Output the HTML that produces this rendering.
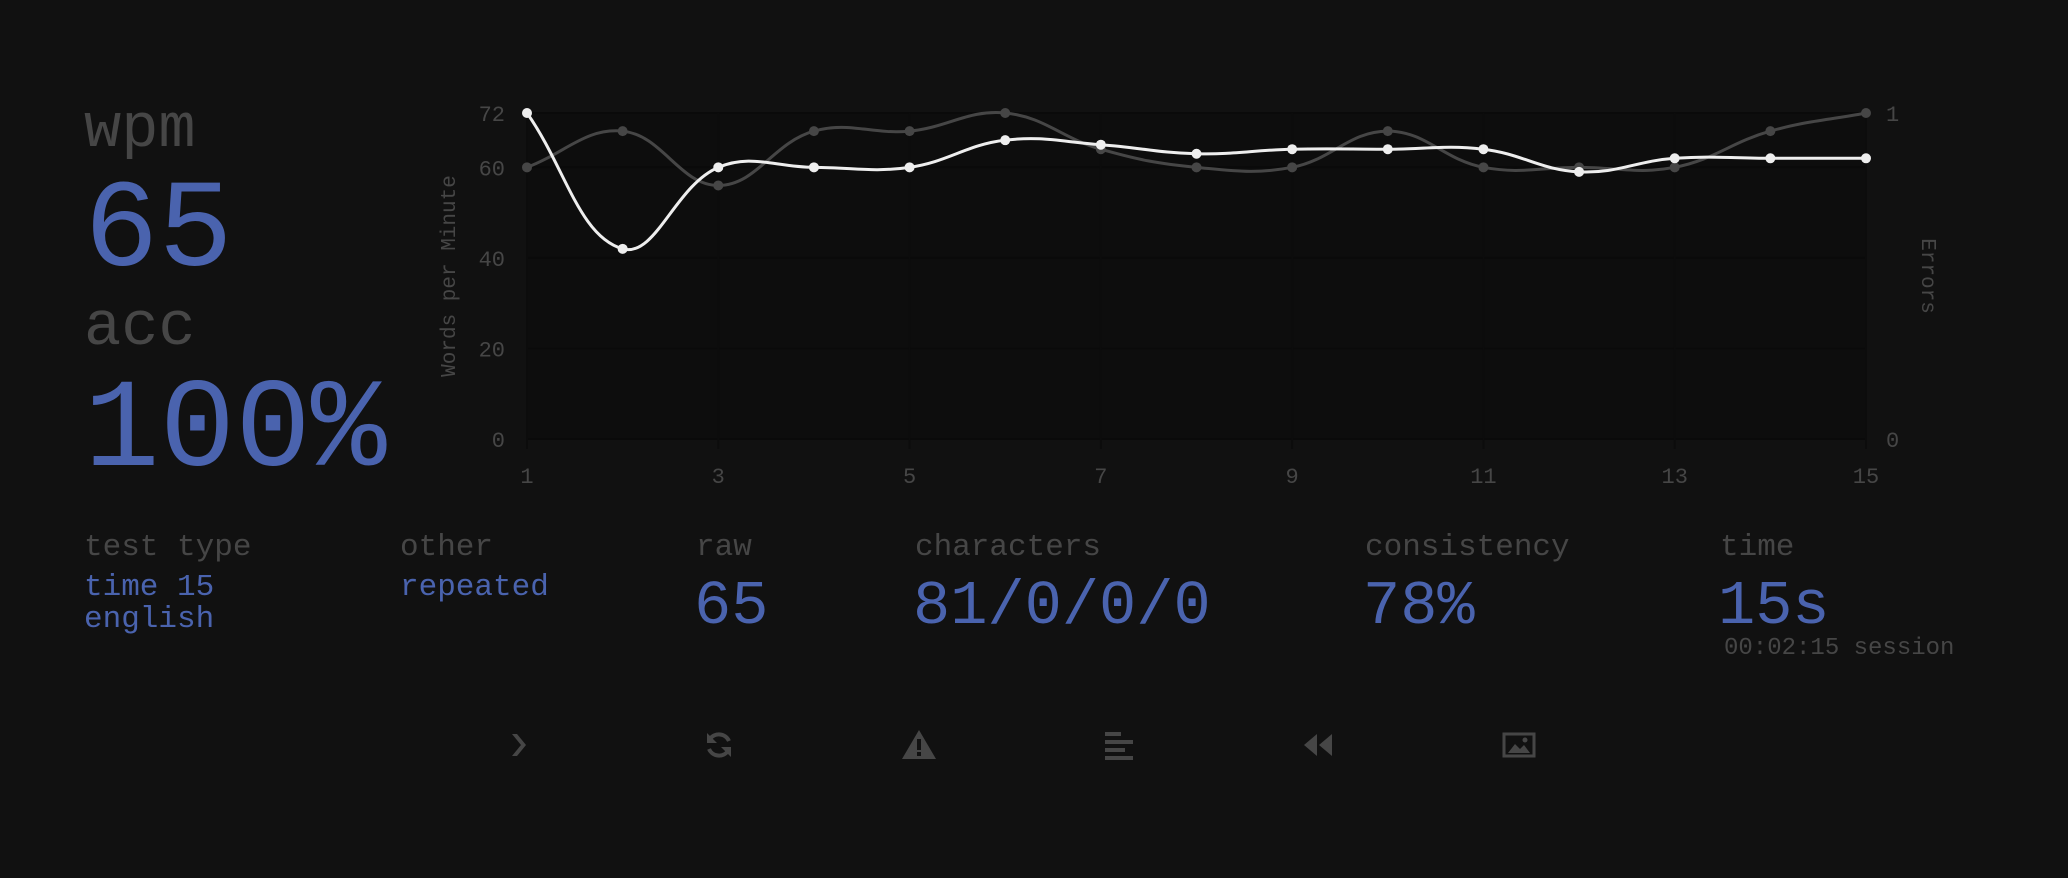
<!DOCTYPE html>
<html><head><meta charset="utf-8">
<style>
html,body{margin:0;padding:0;background:#111111;width:2068px;height:878px;overflow:hidden;font-family:"Liberation Mono",monospace;}
.t{position:absolute;white-space:nowrap;line-height:1;}
.sub{color:#464646;}
.main{color:#4a63ae;}
</style></head><body>
<div class="t sub" style="left:84px;top:99px;font-size:62px;">wpm</div>
<div class="t main" style="left:84px;top:171px;font-size:124px;">65</div>
<div class="t sub" style="left:84px;top:297px;font-size:62px;">acc</div>
<div class="t main" style="left:84px;top:369px;font-size:126px;">100%</div>

<svg id="chart" width="2068" height="520" style="position:absolute;left:0;top:0;"></svg>

<div class="t sub" style="left:84px;top:532px;font-size:31px;">test type</div>
<div class="t main" style="left:84px;top:572px;font-size:31px;line-height:32px;">time 15<br>english</div>
<div class="t sub" style="left:400px;top:532px;font-size:31px;">other</div>
<div class="t main" style="left:400px;top:572px;font-size:31px;">repeated</div>
<div class="t sub" style="left:696px;top:532px;font-size:31px;">raw</div>
<div class="t main" style="left:694px;top:576px;font-size:62px;">65</div>
<div class="t sub" style="left:915px;top:532px;font-size:31px;">characters</div>
<div class="t main" style="left:913px;top:576px;font-size:62px;">81/0/0/0</div>
<div class="t sub" style="left:1365px;top:532px;font-size:31px;">consistency</div>
<div class="t main" style="left:1363px;top:576px;font-size:62px;">78%</div>
<div class="t sub" style="left:1720px;top:532px;font-size:31px;">time</div>
<div class="t main" style="left:1718px;top:576px;font-size:62px;">15s</div>
<div class="t sub" style="left:1724px;top:637px;font-size:24px;">00:02:15 session</div>

<svg width="2068" height="100" style="position:absolute;left:0;top:695px;" fill="#464646">
 <g transform="translate(518,50)"><path d="M-6,-11 L-1,-11 L8,0 L-1,11 L-6,11 L3,0 Z"/></g>
 <g transform="translate(719,50)" fill="none" stroke="#464646" stroke-width="4"><path d="M10,-4 A11,11 0 0 0 -9,-6"/><path d="M-10,4 A11,11 0 0 0 9,6"/><path d="M-12,-12 l0,10 l10,0 z" fill="#464646" stroke="none"/><path d="M12,12 l0,-10 l-10,0 z" fill="#464646" stroke="none"/></g>
 <g transform="translate(919,50)"><path d="M0,-15 L17,14 L-17,14 Z"/><rect x="-2" y="-6" width="4" height="11" fill="#111"/><rect x="-2" y="7" width="4" height="4" fill="#111"/></g>
 <g transform="translate(1119,50)"><rect x="-14" y="-13" width="16" height="4"/><rect x="-14" y="-5" width="28" height="4"/><rect x="-14" y="3" width="20" height="4"/><rect x="-14" y="11" width="28" height="4"/></g>
 <g transform="translate(1319,50)"><path d="M-15,0 L-2,-11 L-2,11 Z"/><path d="M0,0 L13,-11 L13,11 Z"/></g>
 <g transform="translate(1519,50)"><rect x="-15" y="-11" width="30" height="22" fill="none" stroke="#464646" stroke-width="3"/><path d="M-11,8 L-4,-1 L1,4 L5,0 L11,8 Z"/><circle cx="6" cy="-5" r="2.5"/></g>
</svg>

<script>
const xLabels = [1,2,3,4,5,6,7,8,9,10,11,12,13,14,15];
const wpmValues = [72,42,60,60,60,66,65,63,64,64,64,59,62,62,62];
const rawValues = [60,68,56,68,68,72,64,60,60,68,60,60,60,68,72];
const yTicks = [0,20,40,60,72];
const xTickLabels = [1,3,5,7,9,11,13,15];
const errTicks = [0,1];

const NS = "http://www.w3.org/2000/svg";
const svg = document.getElementById('chart');
const L = 527, R = 1866, T = 113, B = 439;
const yMax = 72;
function xs(v){ return L + (v-1)/(xLabels[xLabels.length-1]-1)*(R-L); }
function ys(v){ return B - v/yMax*(B-T); }
function ye(v){ return B - v*(B-T); }
function mk(tag, attrs){ const e=document.createElementNS(NS,tag); for(const k in attrs) e.setAttribute(k,attrs[k]); svg.appendChild(e); return e; }

const bg = mk('rect',{x:L,y:T,width:R-L,height:B-T,fill:'#0d0d0d'});



yTicks.forEach(v=>{
  const g = mk('line',{x1:L,x2:R,y1:ys(v),y2:ys(v),stroke:'#0a0a0a','stroke-width':2});
  
  
  const t = mk('text',{x:L-22,y:ys(v)+8,'text-anchor':'end',fill:'#464646','font-size':22,'font-family':'Liberation Mono, monospace'});
  t.textContent = v;
  
  
});
xTickLabels.forEach(v=>{
  const g = mk('line',{x1:xs(v),x2:xs(v),y1:T,y2:B+10,stroke:'#0c0c0c','stroke-width':2});
  
  
  const t = mk('text',{x:xs(v),y:483,'text-anchor':'middle',fill:'#464646','font-size':22,'font-family':'Liberation Mono, monospace'});
  t.textContent = v;
  
  
});
errTicks.forEach(v=>{
  const t = mk('text',{x:R+20,y:ye(v)+8,'text-anchor':'start',fill:'#464646','font-size':22,'font-family':'Liberation Mono, monospace'});
  t.textContent = v;
  
  
});
const yt = mk('text',{transform:`translate(455,${(T+B)/2}) rotate(-90)`,'text-anchor':'middle',fill:'#464646','font-size':21,'font-family':'Liberation Mono, monospace'});
yt.textContent='Words per Minute';


const et = mk('text',{transform:`translate(1922,${(T+B)/2}) rotate(90)`,'text-anchor':'middle',fill:'#464646','font-size':21,'font-family':'Liberation Mono, monospace'});
et.textContent='Errors';



function spline(pts, t){
  let d = `M${pts[0][0]},${pts[0][1]}`;
  const cps = pts.map((p,i)=>{
    const p0 = pts[Math.max(0,i-1)], p2 = pts[Math.min(pts.length-1,i+1)];
    const d01 = Math.hypot(p[0]-p0[0],p[1]-p0[1]), d12 = Math.hypot(p2[0]-p[0],p2[1]-p[1]);
    const s = d01+d12 || 1;
    const fa = t*d01/s, fb = t*d12/s;
    return {prev:[p[0]-fa*(p2[0]-p0[0]), p[1]-fa*(p2[1]-p0[1])], next:[p[0]+fb*(p2[0]-p0[0]), p[1]+fb*(p2[1]-p0[1])]};
  });
  for(let i=1;i<pts.length;i++){
    const a=cps[i-1].next, b=cps[i].prev;
    d += ` C${a[0]},${a[1]} ${b[0]},${b[1]} ${pts[i][0]},${pts[i][1]}`;
  }
  return d;
}
function series(vals, color, name){
  const pts = vals.map((v,i)=>[xs(xLabels[i]), ys(v)]);
  const p = mk('path',{d:spline(pts,0.4),fill:'none',stroke:color,'stroke-width':3});
  
  
  pts.forEach(q=>{
    const c = mk('circle',{cx:q[0],cy:q[1],r:5,fill:color});
    
    
  });
}
series(rawValues,'#464646','raw');
series(wpmValues,'#eeeeee','wpm');
</script>
</body></html>
